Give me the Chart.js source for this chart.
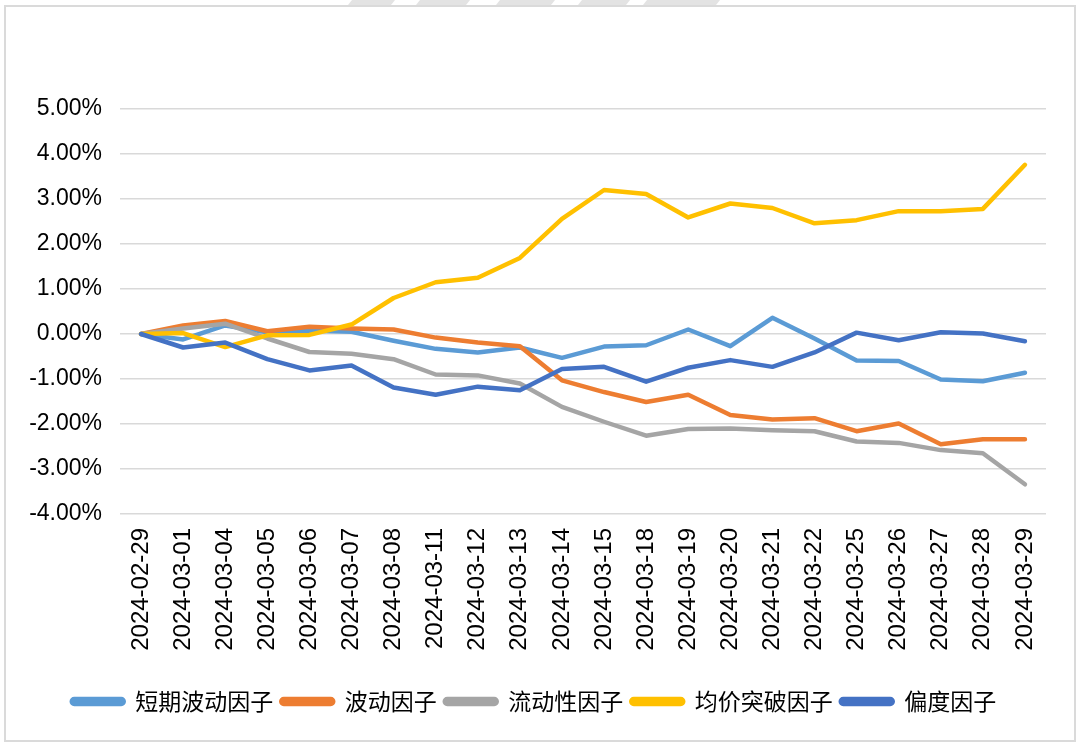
<!DOCTYPE html>
<html>
<head>
<meta charset="utf-8">
<script src="https://cdn.jsdelivr.net/npm/chart.js@4/dist/chart.umd.min.js"></script>
<style>
    html, body { margin: 0; padding: 0; background: #fff; }
    #wrap { position: relative; width: 1080px; height: 745px; }
</style>
</head>
<body>
<div id="wrap"><canvas id="factorChart" width="1080" height="745"></canvas></div>
<script>
// ==================== DATA ====================

const dates = [
    '2024-02-29', '2024-03-01', '2024-03-04', '2024-03-05', '2024-03-06', '2024-03-07',
    '2024-03-08', '2024-03-11', '2024-03-12', '2024-03-13', '2024-03-14', '2024-03-15',
    '2024-03-18', '2024-03-19', '2024-03-20', '2024-03-21', '2024-03-22', '2024-03-25',
    '2024-03-26', '2024-03-27', '2024-03-28', '2024-03-29'
];

const seriesNames = ['短期波动因子', '波动因子', '流动性因子', '均价突破因子', '偏度因子'];
const seriesColors = ['#5B9BD5', '#ED7D31', '#A5A5A5', '#FFC000', '#4472C4'];

// cumulative returns, %
const shortVol = [0, -0.12, 0.19, 0.04, 0.08, 0.05, -0.15, -0.33, -0.41, -0.30, -0.53, -0.28,
    -0.25, 0.10, -0.27, 0.36, -0.10, -0.59, -0.60, -1.01, -1.05, -0.86];
const volatility = [0, 0.19, 0.29, 0.06, 0.16, 0.12, 0.10, -0.08, -0.19, -0.27, -1.03, -1.29,
    -1.51, -1.35, -1.80, -1.90, -1.87, -2.16, -1.99, -2.45, -2.34, -2.34];
const liquidity = [0, 0.12, 0.23, -0.10, -0.40, -0.44, -0.56, -0.90, -0.92, -1.10, -1.62, -1.95,
    -2.26, -2.11, -2.10, -2.14, -2.16, -2.39, -2.42, -2.58, -2.65, -3.34];
const breakout = [0, 0.02, -0.29, -0.03, -0.02, 0.21, 0.80, 1.15, 1.25, 1.69, 2.56, 3.20,
    3.11, 2.59, 2.90, 2.80, 2.46, 2.53, 2.73, 2.73, 2.78, 3.76];
const skewness = [0, -0.30, -0.19, -0.56, -0.81, -0.70, -1.19, -1.35, -1.17, -1.25, -0.78, -0.73,
    -1.06, -0.75, -0.58, -0.73, -0.41, 0.03, -0.14, 0.04, 0.01, -0.16];

const yMin = -4;
const yMax = 5;

// ==================== CHART ====================

// Page frame + faint stripes at the top edge
const framePlugin = {
    id: 'frame',
    beforeDraw(chart) {
        const ctx = chart.ctx;
        ctx.save();
        ctx.fillStyle = '#ffffff';
        ctx.fillRect(0, 0, chart.width, chart.height);
        ctx.fillStyle = '#e3e3e3';
        const stripes = [[352, 395], [420, 470], [500, 555], [582, 630], [647, 720]];
        stripes.forEach(s => {
            ctx.beginPath();
            ctx.moveTo(s[0], 0);
            ctx.lineTo(s[1], 0);
            ctx.lineTo(s[1] - 4, 5);
            ctx.lineTo(s[0] - 4, 5);
            ctx.closePath();
            ctx.fill();
        });
        ctx.strokeStyle = '#dadada';
        ctx.lineWidth = 2;
        ctx.strokeRect(5, 6, chart.width - 10, chart.height - 10);
        ctx.restore();
    }
};

function buildDatasets() {
    const values = [shortVol, volatility, liquidity, breakout, skewness];
    return values.map((v, i) => ({
        label: seriesNames[i],
        data: v,
        borderColor: seriesColors[i],
        backgroundColor: seriesColors[i],
        borderWidth: 4.5,
        pointRadius: 0,
        tension: 0,
        borderJoinStyle: 'round',
        borderCapStyle: 'round',
        order: values.length - i   // later series drawn on top, like the original
    }));
}

const ctx = document.getElementById('factorChart').getContext('2d');

new Chart(ctx, {
    type: 'line',
    data: {
        labels: dates,
        datasets: buildDatasets()
    },
    options: {
        responsive: false,
        animation: false,
        layout: {
            padding: { top: 109, left: 22, right: 34, bottom: 22 }
        },
        scales: {
            x: {
                offset: true,
                grid: { display: false, drawTicks: false, offset: true },
                border: { display: false },
                ticks: {
                    autoSkip: false,
                    minRotation: 90,
                    maxRotation: 90,
                    padding: 14,
                    color: '#000',
                    font: { family: '"Liberation Sans", Arial, sans-serif', size: 24 }
                },
                afterFit(axis) { axis.height = 168; }
            },
            y: {
                min: yMin,
                max: yMax,
                grid: { color: '#d9d9d9', lineWidth: 1.5, drawTicks: false },
                border: { display: false },
                ticks: {
                    stepSize: 1,
                    padding: 18,
                    color: '#000',
                    font: { family: '"Liberation Sans", Arial, sans-serif', size: 23 },
                    callback: v => v.toFixed(2) + '%'
                },
                afterFit(axis) { axis.width = 98; }
            }
        },
        plugins: {
            legend: {
                position: 'bottom',
                labels: {
                    boxWidth: 52,
                    boxHeight: 5,
                    padding: 8,
                    useBorderRadius: true,
                    borderRadius: 2.5,
                    color: '#000',
                    font: { family: '"Noto Sans CJK SC", sans-serif', size: 23 },
                    sort: (a, b) => a.datasetIndex - b.datasetIndex
                }
            },
            tooltip: { enabled: false }
        }
    },
    plugins: [framePlugin]
});
</script>
</body>
</html>
